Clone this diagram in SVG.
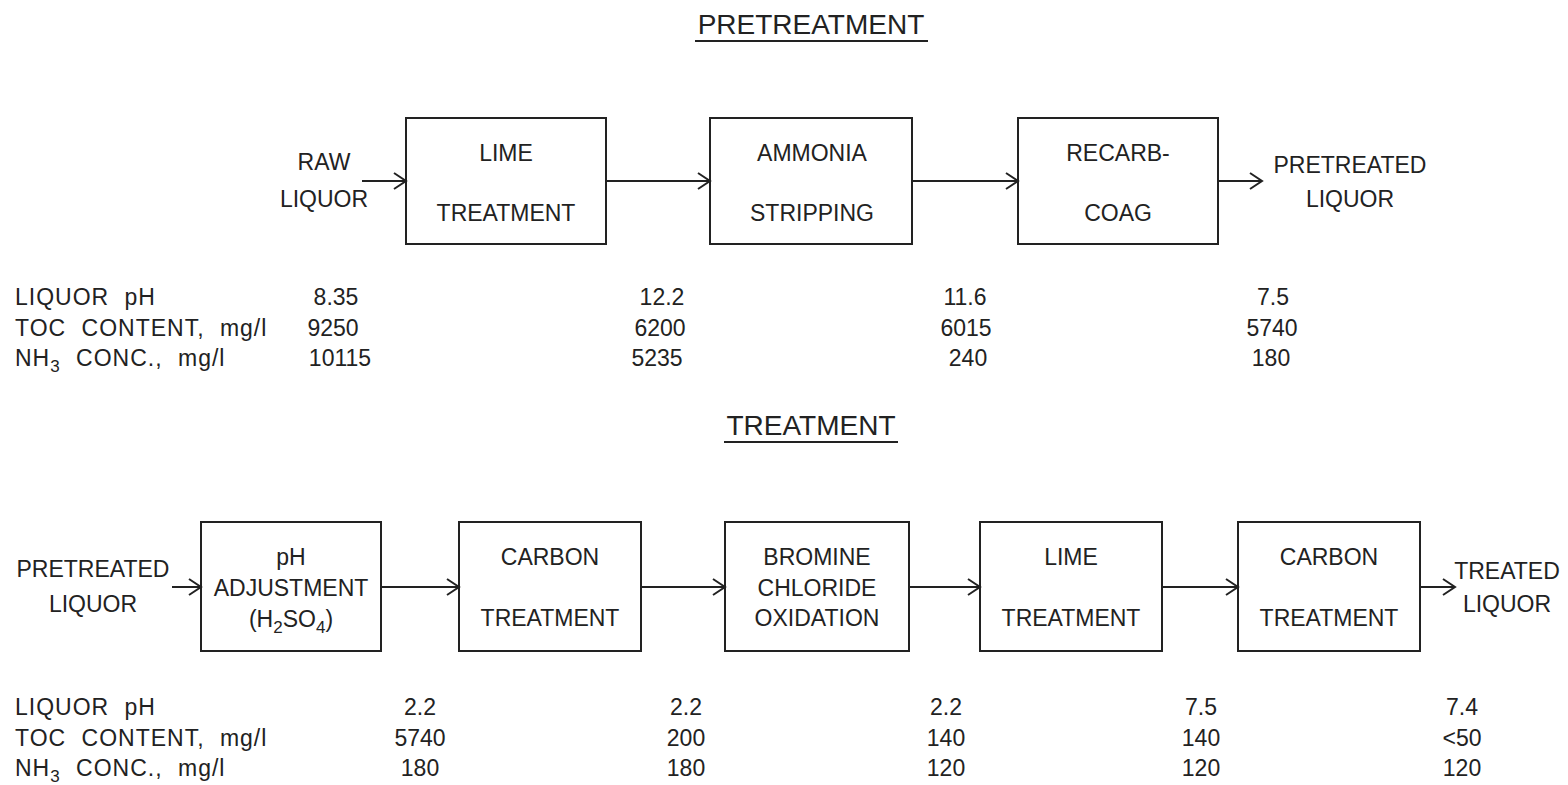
<svg xmlns="http://www.w3.org/2000/svg" width="1568" height="785" viewBox="0 0 1568 785">
  <style>
    text { font-family: "Liberation Sans", Arial, sans-serif; font-size: 23px; fill: #222; }
    .c { text-anchor: middle; }
    .title { font-size: 28px; }
    .lbl { letter-spacing: 1px; word-spacing: 8px; }
    .box { fill: none; stroke: #222; stroke-width: 2; }
    .line { fill: none; stroke: #222; stroke-width: 2; }
    .sub { font-size: 17px; }
  </style>
  <defs>
    <marker id="arr" markerWidth="16" markerHeight="18" refX="13" refY="9" orient="auto" markerUnits="userSpaceOnUse">
      <path d="M1,1 L13,9 L1,17" fill="none" stroke="#222" stroke-width="2"/>
    </marker>
  </defs>
  <rect width="1568" height="785" fill="#ffffff"/>

  <!-- Section titles -->
  <g id="title-pretreatment">
    <text class="c title" x="811" y="34">PRETREATMENT</text>
    <line class="line" x1="695" y1="41" x2="928" y2="41"/>
  </g>
  <g id="title-treatment">
    <text class="c title" x="811" y="435">TREATMENT</text>
    <line class="line" x1="724" y1="442" x2="898" y2="442"/>
  </g>

  <!-- Pretreatment nodes -->
  <g id="raw-liquor">
    <text class="c" x="324" y="170">RAW</text>
    <text class="c" x="324" y="207">LIQUOR</text>
  </g>
  <g id="lime-treatment-1">
    <rect class="box" x="406" y="118" width="200" height="126"/>
    <text class="c" x="506" y="161">LIME</text>
    <text class="c" x="506" y="221">TREATMENT</text>
  </g>
  <g id="ammonia-stripping">
    <rect class="box" x="710" y="118" width="202" height="126"/>
    <text class="c" x="812" y="161">AMMONIA</text>
    <text class="c" x="812" y="221">STRIPPING</text>
  </g>
  <g id="recarb-coag">
    <rect class="box" x="1018" y="118" width="200" height="126"/>
    <text class="c" x="1118" y="161">RECARB-</text>
    <text class="c" x="1118" y="221">COAG</text>
  </g>
  <g id="pretreated-liquor-out">
    <text class="c" x="1350" y="173">PRETREATED</text>
    <text class="c" x="1350" y="207">LIQUOR</text>
  </g>

  <!-- Treatment nodes -->
  <g id="pretreated-liquor-in">
    <text class="c" x="93" y="577">PRETREATED</text>
    <text class="c" x="93" y="612">LIQUOR</text>
  </g>
  <g id="ph-adjustment">
    <rect class="box" x="201" y="522" width="180" height="129"/>
    <text class="c" x="291" y="565">pH</text>
    <text class="c" x="291" y="596">ADJUSTMENT</text>
    <text class="c" x="291" y="627">(H<tspan class="sub" dy="6">2</tspan><tspan dy="-6">SO</tspan><tspan class="sub" dy="6">4</tspan><tspan dy="-6">)</tspan></text>
  </g>
  <g id="carbon-treatment-1">
    <rect class="box" x="459" y="522" width="182" height="129"/>
    <text class="c" x="550" y="565">CARBON</text>
    <text class="c" x="550" y="626">TREATMENT</text>
  </g>
  <g id="bromine-chloride-oxidation">
    <rect class="box" x="725" y="522" width="184" height="129"/>
    <text class="c" x="817" y="565">BROMINE</text>
    <text class="c" x="817" y="596">CHLORIDE</text>
    <text class="c" x="817" y="626">OXIDATION</text>
  </g>
  <g id="lime-treatment-2">
    <rect class="box" x="980" y="522" width="182" height="129"/>
    <text class="c" x="1071" y="565">LIME</text>
    <text class="c" x="1071" y="626">TREATMENT</text>
  </g>
  <g id="carbon-treatment-2">
    <rect class="box" x="1238" y="522" width="182" height="129"/>
    <text class="c" x="1329" y="565">CARBON</text>
    <text class="c" x="1329" y="626">TREATMENT</text>
  </g>
  <g id="treated-liquor">
    <text class="c" x="1507" y="579">TREATED</text>
    <text class="c" x="1507" y="612">LIQUOR</text>
  </g>

  <!-- Connectors -->
  <g id="connectors">
    <line class="line" x1="362" y1="181" x2="406" y2="181" marker-end="url(#arr)"/>
    <line class="line" x1="606" y1="181" x2="710" y2="181" marker-end="url(#arr)"/>
    <line class="line" x1="912" y1="181" x2="1018" y2="181" marker-end="url(#arr)"/>
    <line class="line" x1="1218" y1="181" x2="1262" y2="181" marker-end="url(#arr)"/>

    <line class="line" x1="172" y1="587" x2="201" y2="587" marker-end="url(#arr)"/>
    <line class="line" x1="381" y1="587" x2="459" y2="587" marker-end="url(#arr)"/>
    <line class="line" x1="641" y1="587" x2="725" y2="587" marker-end="url(#arr)"/>
    <line class="line" x1="909" y1="587" x2="980" y2="587" marker-end="url(#arr)"/>
    <line class="line" x1="1162" y1="587" x2="1238" y2="587" marker-end="url(#arr)"/>
    <line class="line" x1="1420" y1="587" x2="1455" y2="587" marker-end="url(#arr)"/>
  </g>

  <!-- Pretreatment data table -->
  <g id="pretreatment-data">
    <text class="lbl" x="15" y="305">LIQUOR pH</text>
    <text class="lbl" x="15" y="336">TOC CONTENT, mg/l</text>
    <text class="lbl" x="15" y="366">NH<tspan class="sub" dy="6">3</tspan><tspan dy="-6"> CONC., mg/l</tspan></text>
    <text class="c" x="336" y="305">8.35</text>
    <text class="c" x="333" y="336">9250</text>
    <text class="c" x="340" y="366">10115</text>
    <text class="c" x="662" y="305">12.2</text>
    <text class="c" x="660" y="336">6200</text>
    <text class="c" x="657" y="366">5235</text>
    <text class="c" x="965" y="305">11.6</text>
    <text class="c" x="966" y="336">6015</text>
    <text class="c" x="968" y="366">240</text>
    <text class="c" x="1273" y="305">7.5</text>
    <text class="c" x="1272" y="336">5740</text>
    <text class="c" x="1271" y="366">180</text>
  </g>

  <!-- Treatment data table -->
  <g id="treatment-data">
    <text class="lbl" x="15" y="715">LIQUOR pH</text>
    <text class="lbl" x="15" y="746">TOC CONTENT, mg/l</text>
    <text class="lbl" x="15" y="776">NH<tspan class="sub" dy="6">3</tspan><tspan dy="-6"> CONC., mg/l</tspan></text>
    <text class="c" x="420" y="715">2.2</text>
    <text class="c" x="420" y="746">5740</text>
    <text class="c" x="420" y="776">180</text>
    <text class="c" x="686" y="715">2.2</text>
    <text class="c" x="686" y="746">200</text>
    <text class="c" x="686" y="776">180</text>
    <text class="c" x="946" y="715">2.2</text>
    <text class="c" x="946" y="746">140</text>
    <text class="c" x="946" y="776">120</text>
    <text class="c" x="1201" y="715">7.5</text>
    <text class="c" x="1201" y="746">140</text>
    <text class="c" x="1201" y="776">120</text>
    <text class="c" x="1462" y="715">7.4</text>
    <text class="c" x="1462" y="746">&lt;50</text>
    <text class="c" x="1462" y="776">120</text>
  </g>
</svg>
